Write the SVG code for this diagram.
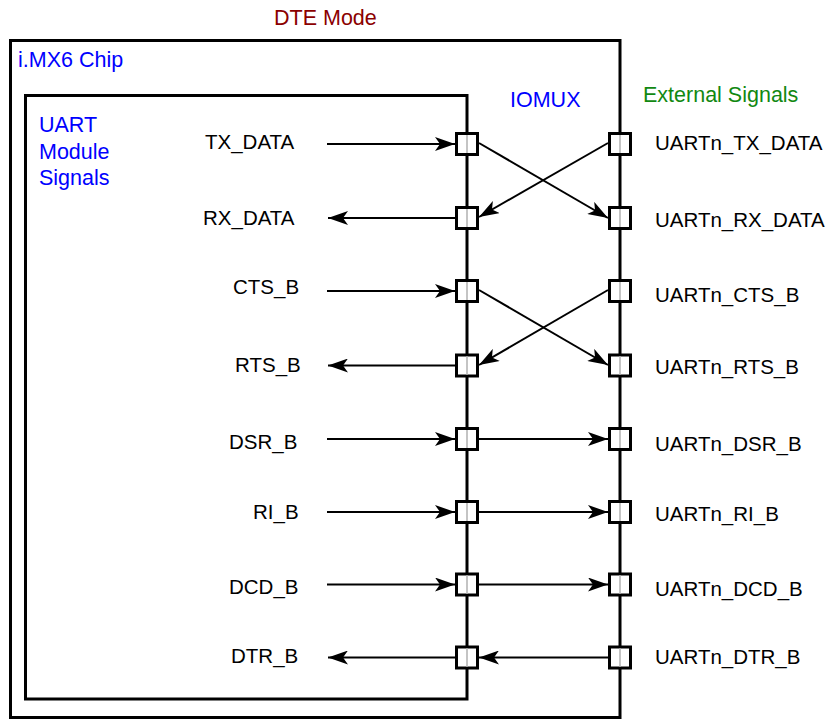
<svg xmlns="http://www.w3.org/2000/svg" width="833" height="719" viewBox="0 0 833 719">
<defs>
<style>
.box{fill:none;stroke:#000;stroke-width:3}
.bus{stroke:#000;stroke-width:3;fill:none}
.pad{fill:#fff;stroke:#000;stroke-width:3}
.stripe{stroke:#c4c4c4;stroke-width:2}
.conn{stroke:#000;stroke-width:2;fill:none}
.lbl{font-family:"Liberation Sans",Arial,Helvetica,sans-serif;font-size:20.5px;fill:#000}
.ttl{font-family:"Liberation Sans",Arial,Helvetica,sans-serif;font-size:21.5px;fill:#0000ff}
</style>
<marker id="ah" viewBox="0 0 20 14" refX="20" refY="7" markerWidth="20" markerHeight="14" markerUnits="userSpaceOnUse" orient="auto">
<path d="M0,0 L20,7 L0,14 L5,7 Z" fill="#000"/>
</marker>
<g id="padL"><rect class="pad" x="-10.5" y="-10.5" width="21" height="21"/><line class="stripe" x1="0" y1="-9" x2="0" y2="9"/></g>
</defs>
<rect width="833" height="719" fill="#fff"/>

<g id="chip">
<rect class="box" x="10.5" y="40.5" width="609.5" height="677"/>
<text class="ttl" x="18" y="67">i.MX6 Chip</text>
</g>
<g id="uart-module">
<rect class="box" x="25.5" y="95.5" width="441.5" height="603.5"/>
<text class="ttl" x="39" y="132" font-size="21">UART</text>
<text class="ttl" x="39" y="158.5">Module</text>
<text class="ttl" x="39" y="185">Signals</text>
</g>
<g id="titles">
<text class="ttl" x="274" y="25" style="fill:#8b0000">DTE Mode</text>
<text class="ttl" x="510" y="107">IOMUX</text>
<text class="ttl" x="643" y="102" style="fill:#118811">External Signals</text>
</g>

<g id="connectors">
<line class="conn" x1="327" y1="144" x2="455" y2="144" marker-end="url(#ah)"/>
<line class="conn" x1="455" y1="218" x2="328" y2="218" marker-end="url(#ah)"/>
<line class="conn" x1="327" y1="291" x2="455" y2="291" marker-end="url(#ah)"/>
<line class="conn" x1="455" y1="365.5" x2="328" y2="365.5" marker-end="url(#ah)"/>
<line class="conn" x1="327" y1="439" x2="455" y2="439" marker-end="url(#ah)"/>
<line class="conn" x1="327" y1="512" x2="455" y2="512" marker-end="url(#ah)"/>
<line class="conn" x1="327" y1="584.5" x2="455" y2="584.5" marker-end="url(#ah)"/>
<line class="conn" x1="455" y1="657.5" x2="328" y2="657.5" marker-end="url(#ah)"/>

<line class="conn" x1="479" y1="143" x2="608" y2="218" marker-end="url(#ah)"/>
<line class="conn" x1="608" y1="143" x2="479" y2="217" marker-end="url(#ah)"/>
<line class="conn" x1="479" y1="290" x2="608" y2="365" marker-end="url(#ah)"/>
<line class="conn" x1="608" y1="290" x2="479" y2="365" marker-end="url(#ah)"/>
<line class="conn" x1="479" y1="439" x2="608" y2="439" marker-end="url(#ah)"/>
<line class="conn" x1="479" y1="512" x2="608" y2="512" marker-end="url(#ah)"/>
<line class="conn" x1="479" y1="584.5" x2="608" y2="584.5" marker-end="url(#ah)"/>
<line class="conn" x1="608" y1="657.5" x2="479" y2="657.5" marker-end="url(#ah)"/>
</g>

<g id="iomux-pads">
<use href="#padL" x="467" y="144"/>
<use href="#padL" x="467" y="218"/>
<use href="#padL" x="467" y="291"/>
<use href="#padL" x="467" y="365.5"/>
<use href="#padL" x="467" y="439"/>
<use href="#padL" x="467" y="512"/>
<use href="#padL" x="467" y="584.5"/>
<use href="#padL" x="467" y="657.5"/>
</g>
<g id="external-pads">
<use href="#padL" x="620" y="144"/>
<use href="#padL" x="620" y="218"/>
<use href="#padL" x="620" y="291"/>
<use href="#padL" x="620" y="365.5"/>
<use href="#padL" x="620" y="439"/>
<use href="#padL" x="620" y="512"/>
<use href="#padL" x="620" y="584.5"/>
<use href="#padL" x="620" y="657.5"/>
</g>

<g id="module-signals">
<text class="lbl" x="205" y="149">TX_DATA</text>
<text class="lbl" x="203" y="225">RX_DATA</text>
<text class="lbl" x="233" y="294">CTS_B</text>
<text class="lbl" x="235" y="372">RTS_B</text>
<text class="lbl" x="229" y="449">DSR_B</text>
<text class="lbl" x="253" y="519">RI_B</text>
<text class="lbl" x="229" y="594">DCD_B</text>
<text class="lbl" x="231" y="663">DTR_B</text>
</g>
<g id="external-signals">
<text class="lbl" x="655" y="150">UARTn_TX_DATA</text>
<text class="lbl" x="655" y="227">UARTn_RX_DATA</text>
<text class="lbl" x="655" y="302">UARTn_CTS_B</text>
<text class="lbl" x="655" y="374">UARTn_RTS_B</text>
<text class="lbl" x="655" y="451">UARTn_DSR_B</text>
<text class="lbl" x="655" y="521">UARTn_RI_B</text>
<text class="lbl" x="655" y="596">UARTn_DCD_B</text>
<text class="lbl" x="655" y="664">UARTn_DTR_B</text>
</g>
</svg>
